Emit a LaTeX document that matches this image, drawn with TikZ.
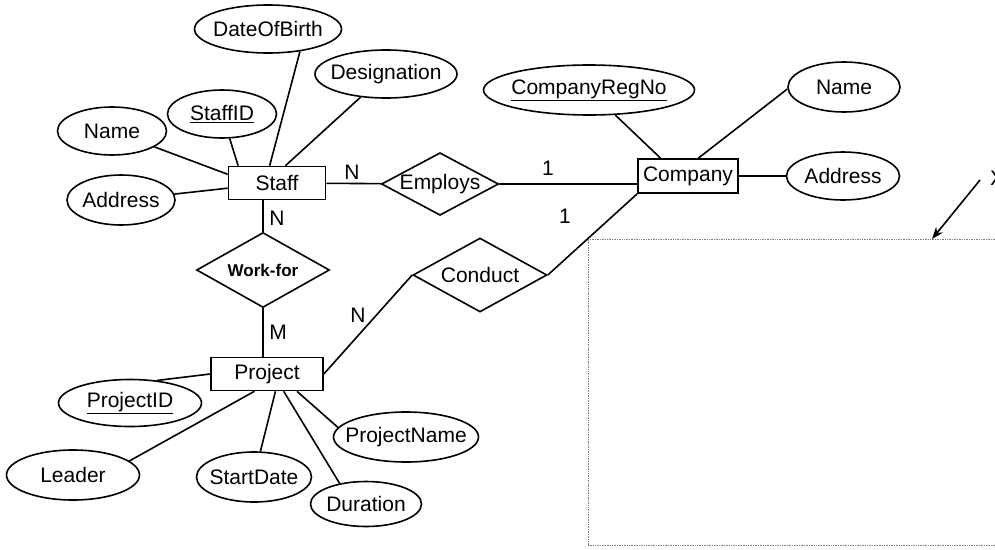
\documentclass[tikz,border=0pt]{standalone}
\usepackage{fontspec}
\setmainfont{Liberation Sans}
\usetikzlibrary{arrows.meta,shapes.geometric}

\tikzset{
  entity/.style={draw,rectangle,inner sep=0pt,minimum height=33pt},
  attr/.style={draw,ellipse,inner sep=0pt,inner xsep=-6pt},
  rel/.style={draw,diamond,aspect=1.87,inner sep=0pt},
  card/.style={inner sep=0pt}
}

\begin{document}
\begin{tikzpicture}[x=1pt,y=-1pt,line width=1.6pt,font=\fontsize{21}{24}\selectfont]
      \clip (0,0) rectangle (995,549);
      % entities and relationships
      \begin{scope}
        \node[entity,minimum width=97pt] (Staff) at (277,183) {Staff};
        \node[entity,minimum width=100pt,minimum height=34pt] (Company) at (688,176) {Company};
        \node[entity,minimum width=112pt] (Project) at (267,374) {Project};
        \node[rel] (Employs) at (440,184) {Employs};
        \node[rel,minimum width=133pt,minimum height=75pt,
          font=\bfseries\fontsize{17}{20}\selectfont] (WorkFor) at (263,270) {Work-for};
        \node[rel,minimum width=134pt,minimum height=74pt] (Conduct) at (480,275) {Conduct};
      \end{scope}
      % attributes
      \begin{scope}
        \node[attr,minimum width=147pt,minimum height=48pt] (DateOfBirth) at (268,29) {DateOfBirth};
        \node[attr,minimum width=142pt,minimum height=48pt] (Designation) at (386,74) {Designation};
        \node[attr,minimum width=109pt,minimum height=48pt] (StaffID) at (222,114) {\underline{StaffID}};
        \node[attr,minimum width=109pt,minimum height=48pt] (NameL) at (112,131) {Name};
        \node[attr,minimum width=108pt,minimum height=50pt] (AddressL) at (121,200) {Address};
        \node[attr,minimum width=211pt,minimum height=50pt] (CompanyRegNo) at (589,90) {\underline{CompanyRegNo}};
        \node[attr,minimum width=112pt,minimum height=50pt] (NameR) at (844,87) {Name};
        \node[attr,minimum width=113pt,minimum height=48pt] (AddressR) at (843,176) {Address};
        \node[attr,minimum width=143pt,minimum height=47pt] (ProjectID) at (130,403) {\underline{ProjectID}};
        \node[attr,minimum width=133pt,minimum height=50pt] (Leader) at (73,475) {Leader};
        \node[attr,minimum width=115pt,minimum height=50pt] (StartDate) at (254,477) {StartDate};
        \node[attr,minimum width=111pt,minimum height=45pt] (Duration) at (366,504) {Duration};
        \node[attr,inner xsep=-10pt,minimum width=145pt,minimum height=50pt] (ProjectName) at (406,437) {ProjectName};
      \end{scope}
      % cardinalities
      \node[card] (cStaffEmp) at (352,172) {N};
      \node[card] (cEmpComp) at (548,168) {1};
      \node[card] (cCondComp) at (565,216) {1};
      \node[card] (cStaffWork) at (277,218) {N};
      \node[card] (cWorkProj) at (278,332) {M};
      \node[card] (cCondProj) at (358,315) {N};
      % answer box
      \node[draw,densely dotted,line width=0.7pt,gray,minimum width=422pt,minimum height=306pt] (answerbox) at (799,392) {};
      \node (xmark) at (997,178) {X};
      \coordinate (xstart) at (980,180);
      \coordinate (xtip) at (932,239);
      \begin{scope}[every edge/.style={draw=black,line width=1.6pt}]
        \path (NameL) edge (Staff.170);
        \path (AddressL) edge (Staff.186);
        \path (StaffID) edge (Staff.156);
        \path (DateOfBirth.-35) edge (Staff.113);
        \path (Designation) edge (Staff.64);
        \path (Staff) edge (Employs);
        \path (Employs) edge (Company.189);
        \path (Conduct.east) edge (Company.south west);
        \path (Conduct.west) edge (Project.east);
        \path (WorkFor.north) edge (WorkFor.north |- Staff.south);
        \path (WorkFor.south) edge (WorkFor.south |- Project.north);
        \path (CompanyRegNo) edge (Company.147);
        \path (NameR.182) edge (Company.60);
        \path (Company) edge (AddressR);
        \path (ProjectID.40) edge (Project.180);
        \path (Leader.14) edge (Project.234);
        \path (StartDate) edge (Project.-64);
        \path (Duration.142) edge (Project.-46);
        \path (ProjectName.172) edge (Project.-30);
        \path (xstart) edge[-{Stealth[length=12pt,width=9pt]}] (xtip);
      \end{scope}
    \end{tikzpicture}
\end{document}
